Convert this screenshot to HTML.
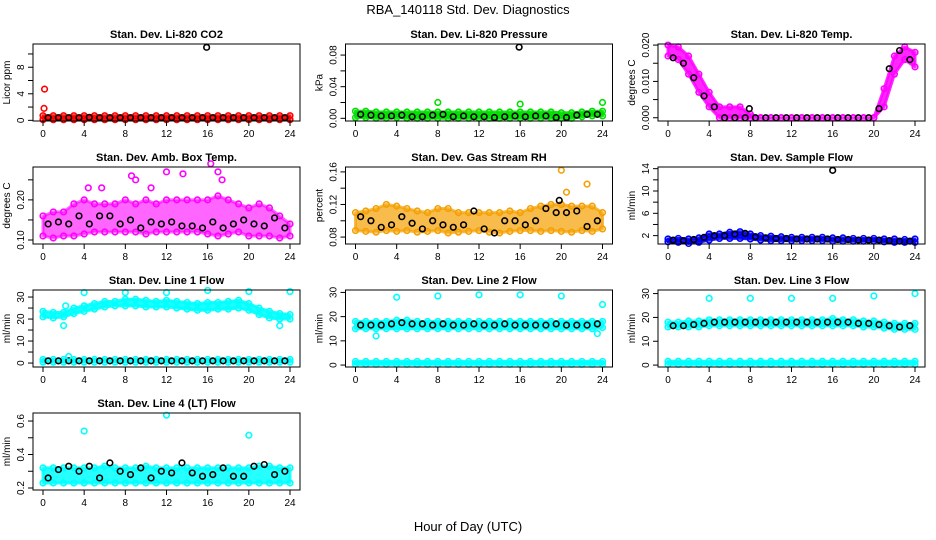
<!DOCTYPE html>
<html><head><meta charset="utf-8"><style>
html,body{margin:0;padding:0;background:#fff}
svg{display:block;font-family:"Liberation Sans",sans-serif}
</style></head><body>
<svg id="c" width="936" height="540" viewBox="0 0 936 540">
<text x="468" y="14" text-anchor="middle" font-size="13">RBA_140118  Std. Dev. Diagnostics</text>
<text x="468" y="531" text-anchor="middle" font-size="13">Hour of Day (UTC)</text>
</svg>
<script>
const hours=[0,1,2,3,4,5,6,7,8,9,10,11,12,13,14,15,16,17,18,19,20,21,22,23,24];
const halfHours=[0.5,1.5,2.5,3.5,4.5,5.5,6.5,7.5,8.5,9.5,10.5,11.5,12.5,13.5,14.5,15.5,16.5,17.5,18.5,19.5,20.5,21.5,22.5,23.5];
const xTicks=[0,4,8,12,16,20,24];

const co2Lo=[0.1,0.1,0.1,0.1,0.1,0.1,0.1,0.1,0.1,0.1,0.1,0.1,0.1,0.1,0.1,0.1,0.1,0.1,0.1,0.1,0.1,0.1,0.1,0.1,0.1];
const co2Hi=[0.7,0.7,0.7,0.7,0.7,0.7,0.7,0.7,0.7,0.7,0.7,0.7,0.7,0.7,0.7,0.7,0.7,0.7,0.7,0.7,0.7,0.7,0.7,0.7,0.7];
const co2Black=[0.4,0.4,0.4,0.4,0.45,0.4,0.4,0.4,0.4,0.4,0.4,0.4,0.4,0.4,0.4,0.4,0.4,0.4,0.4,0.4,0.4,0.4,0.4,0.4];
const co2Out=[[0.15,4.7,'c'],[0.1,1.8,'c'],[15.9,11.0,'k']];
const co2Ticks=[0,2,4,6,8,10];const co2Labels=['0','','4','','8',''];

const presLo=[0.001,0.001,0.0,0.0,0.001,0.0,0.0,0.0,0.0,0.0,0.0,0.0,0.0,0.0,0.0,0.0,0.0,0.0,0.0,0.0,0.0,0.0,0.002,0.003,0.003];
const presHi=[0.009,0.009,0.008,0.008,0.008,0.008,0.008,0.008,0.008,0.008,0.008,0.008,0.008,0.008,0.008,0.008,0.008,0.008,0.008,0.008,0.007,0.007,0.008,0.009,0.009];
const presBlack=[0.005,0.004,0.003,0.003,0.004,0.002,0.002,0.004,0.005,0.002,0.003,0.002,0.002,0.001,0.002,0.003,0.002,0.003,0.003,0.001,0.001,0.004,0.005,0.005];
const presOut=[[8,0.02,'c'],[16,0.018,'c'],[24,0.02,'c'],[15.9,0.090,'k']];
const presTicks=[0,0.02,0.04,0.06,0.08];const presLabels=['0.00','','0.04','','0.08'];

const tempLo=[0.017,0.016,0.012,0.007,0.003,0,0,0,0,0,0,0,0,0,0,0,0,0,0,0,0,0.003,0.012,0.016,0.014];
const tempHi=[0.020,0.0195,0.017,0.012,0.007,0.003,0.003,0.003,0.001,0,0,0,0,0,0,0,0,0,0,0,0,0.008,0.017,0.0195,0.018];
const tempBlack=[0.0165,0.015,0.011,0.006,0.003,0,0,0,0,0,0,0,0,0,0,0,0,0,0,0,0.0025,0.0135,0.0185,0.016];
const tempOut=[[7.9,0.0025,'k']];
const tempTicks=[0,0.005,0.01,0.015,0.02];const tempLabels=['0.000','','0.010','','0.020'];

const ambLo=[0.11,0.105,0.11,0.11,0.115,0.12,0.12,0.12,0.12,0.12,0.115,0.12,0.12,0.12,0.12,0.12,0.115,0.11,0.115,0.12,0.11,0.11,0.11,0.105,0.11];
const ambHi=[0.16,0.17,0.17,0.19,0.2,0.19,0.19,0.19,0.2,0.19,0.2,0.19,0.2,0.2,0.2,0.2,0.2,0.21,0.2,0.19,0.18,0.19,0.18,0.16,0.14];
const ambBlack=[0.14,0.145,0.14,0.16,0.14,0.16,0.16,0.14,0.15,0.13,0.145,0.14,0.145,0.135,0.135,0.13,0.145,0.13,0.14,0.15,0.14,0.135,0.155,0.13];
const ambOut=[[16.3,0.29,'c'],[12,0.27,'c'],[13.6,0.265,'c'],[8.6,0.26,'c'],[17,0.27,'c'],[4.4,0.23,'c'],[10.5,0.23,'c'],[5.7,0.23,'c'],[9,0.25,'c'],[17.4,0.25,'c']];
const ambTicks=[0.10,0.15,0.20,0.25];const ambLabels=['0.10','','0.20',''];

const rhLo=[0.088,0.087,0.086,0.088,0.087,0.088,0.086,0.087,0.088,0.085,0.086,0.087,0.088,0.086,0.085,0.087,0.088,0.088,0.087,0.088,0.087,0.086,0.088,0.087,0.09];
const rhHi=[0.11,0.112,0.115,0.12,0.118,0.115,0.112,0.11,0.115,0.115,0.11,0.11,0.11,0.11,0.11,0.112,0.11,0.115,0.118,0.12,0.12,0.118,0.118,0.118,0.11];
const rhBlack=[0.105,0.1,0.092,0.095,0.105,0.097,0.09,0.1,0.095,0.092,0.095,0.112,0.09,0.085,0.1,0.1,0.095,0.1,0.115,0.11,0.11,0.112,0.093,0.1];
const rhOut=[[20,0.162,'c'],[22.5,0.145,'c'],[20.5,0.135,'c'],[19.8,0.125,'k']];
const rhTicks=[0.08,0.10,0.12,0.14,0.16];const rhLabels=['0.08','','0.12','','0.16'];

const sfLo=[0.9,0.8,0.6,0.8,1.2,1.5,1.5,1.5,1.4,1.2,1.1,1.1,1.1,1.1,1.1,1.1,1.0,1.0,1.0,1.0,1.0,0.9,0.8,0.8,0.8];
const sfHi=[1.4,1.5,1.4,1.6,2.3,2.3,2.6,2.7,2.3,2.0,1.9,1.8,1.7,1.7,1.7,1.7,1.6,1.6,1.5,1.5,1.5,1.4,1.4,1.3,1.4];
const sfBlack=[1.2,1.1,1.3,1.7,2.0,2.0,2.3,2.4,1.8,1.6,1.5,1.5,1.4,1.4,1.4,1.4,1.3,1.3,1.2,1.2,1.2,1.1,1.0,1.0];
const sfOut=[[16,13.7,'k']];
const sfTicks=[2,4,6,8,10,12,14];const sfLabels=['2','','6','','10','','14'];

const l1Lo=[21,20.5,21,22.5,23.5,24.5,25.5,26,26,26,25.5,25.5,25.5,25,24.5,24,24,24.5,24.5,25,24,22,20.5,20,20];
const l1Hi=[23.5,23,23,25,26,27,28,28,29,29,28.5,28,28.5,28,27.5,27,27.5,27.5,28,28.5,27,25,23.5,22.5,22];
const l1ZeroLo=[0.4,0.4,0.4,0.4,0.4,0.4,0.4,0.4,0.4,0.4,0.4,0.4,0.4,0.4,0.4,0.4,0.4,0.4,0.4,0.4,0.4,0.4,0.4,0.4,0.4];
const l1ZeroHi=[1.6,1.6,1.6,1.6,1.6,1.6,1.6,1.6,1.6,1.6,1.6,1.6,1.6,1.6,1.6,1.6,1.6,1.6,1.6,1.6,1.6,1.6,1.6,1.6,1.6];
const l1Black=[1,1,1,1,1,1,1,1,1,1,1,1,1,1,1,1,1,1,1,1,1,1,1,1];
const l1Out=[[4,32,'c'],[8,32,'c'],[12,32,'c'],[16,33,'c'],[20,32.5,'c'],[24,32.5,'c'],[2,17,'c'],[23,17,'c'],[2.5,3,'c'],[2.2,26,'c']];
const l1Ticks=[0,5,10,15,20,25,30];const l1Labels=['0','','10','','20','','30'];

const l2Lo=[15,15,15,15,15,15,15,15,15,15,15,15,15,15,15,15,15,15,15,15,15,15,15,15,15.5];
const l2Hi=[18,18,18,18,18.5,18.5,18,18,18,18,18,18,18,18,18,18,18,18,18,18,18,18,18,18,18];
const l2ZeroLo=[0.3,0.3,0.3,0.3,0.3,0.3,0.3,0.3,0.3,0.3,0.3,0.3,0.3,0.3,0.3,0.3,0.3,0.3,0.3,0.3,0.3,0.3,0.3,0.3,0.3];
const l2ZeroHi=[1.5,1.5,1.5,1.5,1.5,1.5,1.5,1.5,1.5,1.5,1.5,1.5,1.5,1.5,1.5,1.5,1.5,1.5,1.5,1.5,1.5,1.5,1.5,1.5,1.5];
const l2Black=[16.5,16.5,16.5,17,17.5,17,17,16.5,17,16.5,16.5,17,16.5,16.5,17,16.5,16.5,16.5,16.5,17,16.5,16.5,16.5,17];
const l2Out=[[4,28,'c'],[8,28.5,'c'],[12,29,'c'],[16,29,'c'],[20,28.5,'c'],[24,25,'c'],[2,12,'c'],[23.5,13,'c']];
const l2Ticks=[0,10,20,30];const l2Labels=['0','10','20','30'];

const l3Lo=[16,16,16,16,16.5,16.5,16.5,16.5,16.5,16.5,16.5,16.5,16.5,16.5,16.5,16.5,16.5,16.5,16.5,16,16,15.5,15,15,15];
const l3Hi=[18,18,18.5,18.5,19,19,19,19,19,19,19,19,19,19,19,19,19.5,19,19,18.5,18.5,18,17.5,17.5,17.5];
const l3ZeroLo=[0.3,0.3,0.3,0.3,0.3,0.3,0.3,0.3,0.3,0.3,0.3,0.3,0.3,0.3,0.3,0.3,0.3,0.3,0.3,0.3,0.3,0.3,0.3,0.3,0.3];
const l3ZeroHi=[1.6,1.6,1.6,1.6,1.6,1.6,1.6,1.6,1.6,1.6,1.6,1.6,1.6,1.6,1.6,1.6,1.6,1.6,1.6,1.6,1.6,1.6,1.6,1.6,1.6];
const l3Black=[16.5,16.5,17,17.5,18,18,18,18,18,18,18,18,18,18,18,18,18,18,17.5,17.5,17,16.5,16,16.5];
const l3Out=[[4,28,'c'],[8,28,'c'],[12,28,'c'],[16,28,'c'],[20,29,'c'],[24,30,'c']];
const l3Ticks=[0,10,20,30];const l3Labels=['0','10','20','30'];

const l4Lo=[0.23,0.23,0.23,0.23,0.23,0.23,0.23,0.23,0.23,0.23,0.23,0.23,0.23,0.23,0.23,0.23,0.23,0.23,0.23,0.23,0.23,0.23,0.23,0.23,0.23];
const l4Hi=[0.32,0.32,0.32,0.32,0.32,0.32,0.33,0.32,0.32,0.32,0.33,0.32,0.32,0.32,0.32,0.32,0.32,0.32,0.32,0.32,0.32,0.33,0.33,0.32,0.32];
const l4Black=[0.26,0.31,0.33,0.3,0.33,0.26,0.35,0.3,0.28,0.32,0.26,0.3,0.29,0.35,0.29,0.27,0.28,0.32,0.27,0.27,0.33,0.34,0.28,0.3];
const l4Out=[[4,0.54,'c'],[12,0.635,'c'],[20,0.515,'c']];
const l4Ticks=[0.2,0.3,0.4,0.5,0.6];const l4Labels=['0.2','','0.4','','0.6'];

const panels=[
 {id:'co2',title:'Stan. Dev. Li-820 CO2',ylab:'Licor ppm',col:'#ff0000',op:0.9,r:0,c:0,ymin:-0.1,ymax:11.5,bands:[[co2Lo,co2Hi]],black:co2Black,out:co2Out,ticks:co2Ticks,labels:co2Labels},
 {id:'pressure',title:'Stan. Dev. Li-820 Pressure',ylab:'kPa',col:'#00e000',op:0.9,r:0,c:1,ymin:-0.0034,ymax:0.094,bands:[[presLo,presHi]],black:presBlack,out:presOut,ticks:presTicks,labels:presLabels},
 {id:'temp',title:'Stan. Dev. Li-820 Temp.',ylab:'degrees C',col:'#ff00ff',op:0.85,r:0,c:2,ymin:-0.0009,ymax:0.0203,bands:[[tempLo,tempHi]],black:tempBlack,out:tempOut,ticks:tempTicks,labels:tempLabels},
 {id:'ambbox',title:'Stan. Dev. Amb. Box Temp.',ylab:'degrees C',col:'#ff00ff',op:0.6,r:1,c:0,ymin:0.09,ymax:0.282,bands:[[ambLo,ambHi]],black:ambBlack,out:ambOut,ticks:ambTicks,labels:ambLabels},
 {id:'rh',title:'Stan. Dev. Gas Stream RH',ylab:'percent',col:'#f5a000',op:0.7,r:1,c:1,ymin:0.0715,ymax:0.166,bands:[[rhLo,rhHi]],black:rhBlack,out:rhOut,ticks:rhTicks,labels:rhLabels},
 {id:'sampleflow',title:'Stan. Dev. Sample Flow',ylab:'ml/min',col:'#0000ff',op:0.9,r:1,c:2,ymin:0.5,ymax:14.3,bands:[[sfLo,sfHi]],black:sfBlack,out:sfOut,ticks:sfTicks,labels:sfLabels},
 {id:'line1',title:'Stan. Dev. Line 1 Flow',ylab:'ml/min',col:'#00ffff',op:0.9,r:2,c:0,ymin:-1.8,ymax:33.2,bands:[[l1Lo,l1Hi],[l1ZeroLo,l1ZeroHi]],black:l1Black,out:l1Out,ticks:l1Ticks,labels:l1Labels},
 {id:'line2',title:'Stan. Dev. Line 2 Flow',ylab:'ml/min',col:'#00ffff',op:0.9,r:2,c:1,ymin:-0.8,ymax:31,bands:[[l2Lo,l2Hi],[l2ZeroLo,l2ZeroHi]],black:l2Black,out:l2Out,ticks:l2Ticks,labels:l2Labels},
 {id:'line3',title:'Stan. Dev. Line 3 Flow',ylab:'ml/min',col:'#00ffff',op:0.9,r:2,c:2,ymin:-0.8,ymax:31.5,bands:[[l3Lo,l3Hi],[l3ZeroLo,l3ZeroHi]],black:l3Black,out:l3Out,ticks:l3Ticks,labels:l3Labels},
 {id:'line4',title:'Stan. Dev. Line 4 (LT) Flow',ylab:'ml/min',col:'#00ffff',op:0.85,r:3,c:0,ymin:0.188,ymax:0.648,bands:[[l4Lo,l4Hi]],black:l4Black,out:l4Out,ticks:l4Ticks,labels:l4Labels}
];
const NS='http://www.w3.org/2000/svg';
const svg=document.getElementById('c');
function mk(tag,attrs,parent){const e=document.createElementNS(NS,tag);for(const k in attrs)e.setAttribute(k,attrs[k]);parent.appendChild(e);return e;}
panels.forEach(p=>{
 const bx=33+p.c*312.5, by=44+p.r*123, bw=267, bh=77;
 const x0=bx+10, x1=bx+257;
 const X=h=>x0+(x1-x0)*h/24;
 const Y=v=>by+bh-(v-p.ymin)/(p.ymax-p.ymin)*bh;
 const g=mk('g',{},svg);
 
 
 const t=mk('text',{x:bx+bw/2,y:by-6,'text-anchor':'middle','font-size':'11','font-weight':'bold'},g);
 t.textContent=p.title;
 
 
 const yl=mk('text',{x:0,y:0,'text-anchor':'middle','font-size':'10',transform:`translate(${bx-23},${by+bh/2}) rotate(-90)`},g);
 yl.textContent=p.ylab;
 
 
 const cg=mk('g',{fill:'none','stroke-width':'1.6'},g);
 
 
 p.bands.forEach(b=>{
  const lo=b[0],hi=b[1];
  let pts=hours.map((h,i)=>X(h)+','+Y(hi[i]));
  pts=pts.concat(hours.slice().reverse().map((h,j)=>X(h)+','+Y(lo[hours.length-1-j])));
  const poly=mk('polygon',{points:pts.join(' '),fill:p.col,'fill-opacity':p.op,stroke:p.col,'stroke-opacity':p.op,'stroke-width':'3','stroke-linejoin':'round'},cg);
  
  
  hours.forEach((h,i)=>{
   [lo[i],hi[i]].forEach(v=>{
    const ci=mk('circle',{cx:X(h),cy:Y(v),r:2.8,stroke:p.col},cg);
    
    
   });
  });
 });
 p.black.forEach((v,i)=>{
  const ci=mk('circle',{cx:X(halfHours[i]),cy:Y(v),r:2.8,stroke:'#000'},cg);
  
  
 });
 p.out.forEach(o=>{
  const ci=mk('circle',{cx:X(o[0]),cy:Y(o[1]),r:2.8,stroke:o[2]==='k'?'#000':p.col},cg);
  
  
 });
 const box=mk('rect',{x:bx,y:by,width:bw,height:bh,fill:'none',stroke:'#000','stroke-width':'1'},g);
 
 
 const ax=mk('g',{stroke:'#000','stroke-width':'1'},g);
 
 
 xTicks.forEach(h=>{
  mk('line',{x1:X(h),x2:X(h),y1:by+bh,y2:by+bh+5},ax);
  const tl=mk('text',{x:X(h),y:by+bh+16,'text-anchor':'middle','font-size':'10',stroke:'none',fill:'#000'},ax);
  tl.textContent=String(h);
  
  
 });
 const ay=mk('g',{stroke:'#000','stroke-width':'1'},g);
 
 
 p.ticks.forEach((v,i)=>{
  mk('line',{x1:bx-5,x2:bx,y1:Y(v),y2:Y(v)},ay);
  if(p.labels[i]){
   const tl=mk('text',{x:0,y:0,'text-anchor':'middle','font-size':'10',stroke:'none',fill:'#000',transform:`translate(${bx-9},${Y(v)}) rotate(-90)`},ay);
   tl.textContent=p.labels[i];
   
   
  }
 });
});
</script>
</body></html>
